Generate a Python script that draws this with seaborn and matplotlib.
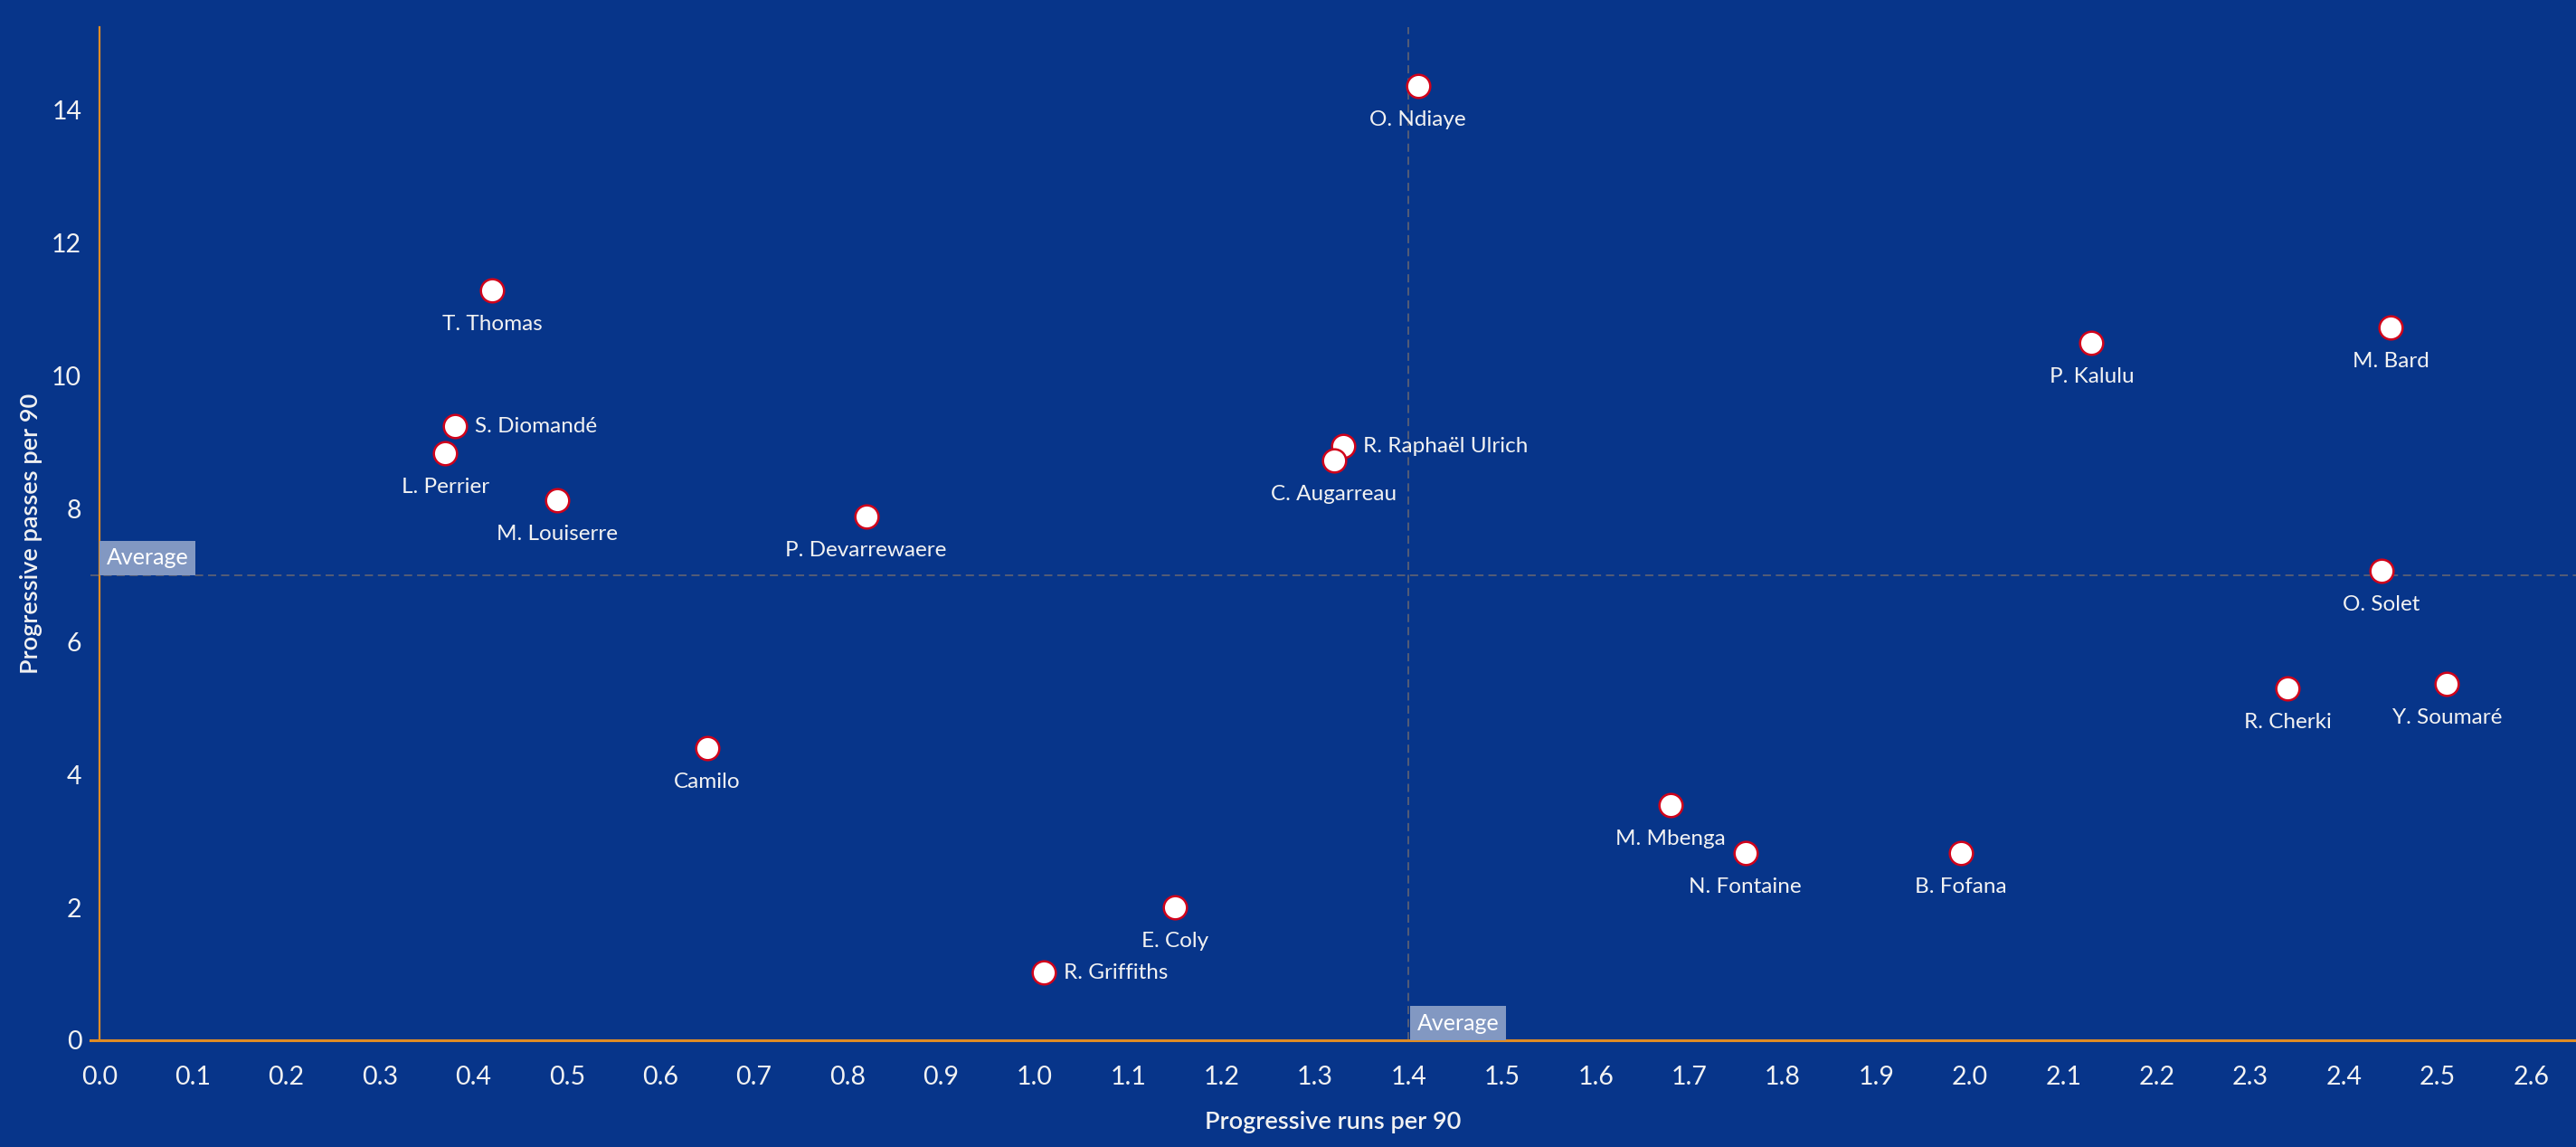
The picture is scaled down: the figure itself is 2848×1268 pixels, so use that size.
"""Scatter: progressive runs vs progressive passes per 90, Tableau-style dark blue."""
import matplotlib
matplotlib.use("Agg")
import matplotlib.pyplot as plt
import numpy as np
import pandas as pd
import seaborn as sns

players = [
    "O. Ndiaye", "T. Thomas", "S. Diomandé", "L. Perrier", "M. Louiserre",
    "P. Devarrewaere", "Camilo", "E. Coly", "R. Griffiths", "R. Raphaël Ulrich",
    "C. Augarreau", "M. Mbenga", "N. Fontaine", "B. Fofana", "P. Kalulu",
    "M. Bard", "O. Solet", "R. Cherki", "Y. Soumaré",
]
prog_runs = [
    1.41, 0.42, 0.38, 0.37, 0.49,
    0.82, 0.65, 1.15, 1.01, 1.33,
    1.32, 1.68, 1.76, 1.99, 2.13,
    2.45, 2.44, 2.34, 2.51,
]
prog_passes = [
    14.36, 11.29, 9.24, 8.83, 8.13,
    7.88, 4.40, 2.00, 1.02, 8.94,
    8.73, 3.54, 2.82, 2.82, 10.49,
    10.73, 7.06, 5.29, 5.36,
]
# labels drawn to the right of the marker instead of below
right_labels = ["S. Diomandé", "R. Raphaël Ulrich", "R. Griffiths"]

avg_runs = 1.40
avg_passes = 7.0

x_ticks = np.round(np.arange(0, 2.61, 0.1), 1)
y_ticks = [0, 2, 4, 6, 8, 10, 12, 14]

BG = "#07358a"
ORANGE = "#e08c24"
EDGE = "#d0021b"
DASH = "#5b6074"
TXT = "#f2f2f2"
BOX = "#8298c2"

sns.set_style("white")
plt.rcParams["font.family"] = ["Lato", "DejaVu Sans"]

df = pd.DataFrame({"player": players, "runs": prog_runs, "passes": prog_passes})

fig = plt.figure(figsize=(28.48, 12.68), dpi=100, facecolor=BG)
ax = fig.add_axes([0.035, 0.0931, 0.965, 0.883])
ax.set_facecolor(BG)

ax.axhline(avg_passes, color=DASH, lw=1.3, ls=(0, (5, 3)), zorder=1)
ax.axvline(avg_runs, color=DASH, lw=1.3, ls=(0, (5, 3)), zorder=1)

sns.scatterplot(data=df, x="runs", y="passes", ax=ax, s=340, color="white",
                edgecolor=EDGE, linewidth=1.8, zorder=3, legend=False)

for name, xv, yv in zip(players, prog_runs, prog_passes):
    if name in right_labels:
        ax.annotate(name, (xv, yv), xytext=(16, 0), textcoords="offset points",
                    ha="left", va="center", color=TXT, fontsize=17.5, zorder=4)
    else:
        ax.annotate(name, (xv, yv), xytext=(0, -27), textcoords="offset points",
                    ha="center", va="center", color=TXT, fontsize=17.5, zorder=4)

# "Average" reference-line tags
ax.text(0.008, avg_passes + 0.1, "Average", ha="left", va="bottom", color="white",
        fontsize=18, zorder=5,
        bbox=dict(boxstyle="square,pad=0.3", fc=BOX, ec="none"))
ax.text(avg_runs + 0.009, 0.1, "Average", ha="left", va="bottom", color="white",
        fontsize=18, zorder=5,
        bbox=dict(boxstyle="square,pad=0.3", fc=BOX, ec="none"))

ax.set_xlim(-0.0097, 2.648)
ax.set_ylim(0, 15.24)
ax.set_xticks(x_ticks)
ax.set_xticklabels([f"{v:.1f}" for v in x_ticks])
ax.set_yticks(y_ticks)

for side in ["top", "right"]:
    ax.spines[side].set_visible(False)
ax.spines["left"].set_position(("data", 0))
ax.spines["left"].set_color(ORANGE)
ax.spines["bottom"].set_color(ORANGE)
ax.spines["left"].set_linewidth(1.6)
ax.spines["bottom"].set_linewidth(2.2)

ax.tick_params(axis="x", colors=ORANGE, direction="out", length=8, width=1.8,
               pad=12, labelsize=20.5, labelcolor=TXT)
ax.tick_params(axis="y", colors=ORANGE, direction="out", length=10, width=1.8,
               pad=4, labelsize=20.5, labelcolor=TXT)

ax.set_xlabel("Progressive runs per 90", color=TXT, fontsize=19.5, fontweight="semibold")
ax.set_ylabel("Progressive passes per 90", color=TXT, fontsize=19.5, fontweight="semibold")
ax.xaxis.set_label_coords(0.5, -0.07)
ax.yaxis.set_label_coords(-0.019, 0.5)
ax.grid(False)

fig.savefig("out.png", dpi=100, facecolor=BG)
